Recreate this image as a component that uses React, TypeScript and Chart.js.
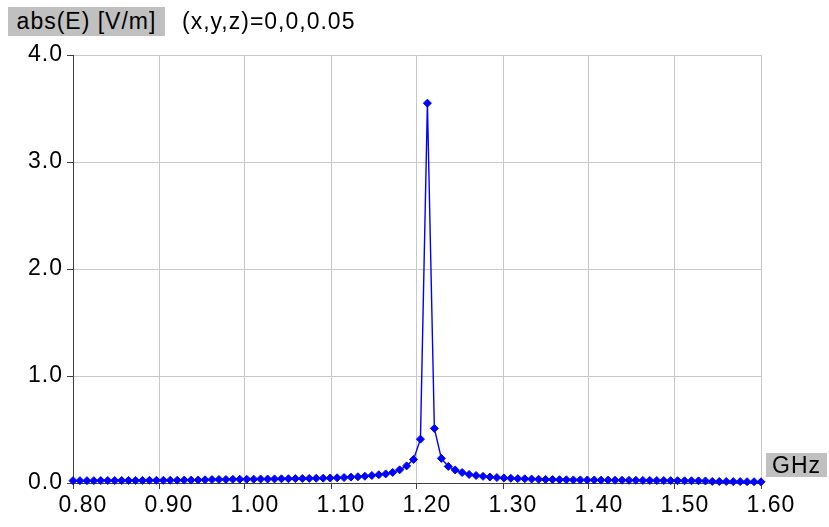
import React, { useEffect, useRef } from "react";
import { Chart, registerables } from "chart.js";

Chart.register(...registerables);

// Frequency samples (GHz)
const FREQ_GHZ: number[] = [
  0.8000, 0.8081, 0.8162, 0.8242, 0.8323, 0.8404, 0.8485, 0.8566, 0.8646, 0.8727,
  0.8808, 0.8889, 0.8970, 0.9051, 0.9131, 0.9212, 0.9293, 0.9374, 0.9455, 0.9535,
  0.9616, 0.9697, 0.9778, 0.9859, 0.9939, 1.0020, 1.0101, 1.0182, 1.0263, 1.0343,
  1.0424, 1.0505, 1.0586, 1.0667, 1.0747, 1.0828, 1.0909, 1.0990, 1.1071, 1.1152,
  1.1232, 1.1313, 1.1394, 1.1475, 1.1556, 1.1636, 1.1717, 1.1798, 1.1879, 1.1960,
  1.2040, 1.2121, 1.2202, 1.2283, 1.2364, 1.2444, 1.2525, 1.2606, 1.2687, 1.2768,
  1.2848, 1.2929, 1.3010, 1.3091, 1.3172, 1.3253, 1.3333, 1.3414, 1.3495, 1.3576,
  1.3657, 1.3737, 1.3818, 1.3899, 1.3980, 1.4061, 1.4141, 1.4222, 1.4303, 1.4384,
  1.4465, 1.4545, 1.4626, 1.4707, 1.4788, 1.4869, 1.4949, 1.5030, 1.5111, 1.5192,
  1.5273, 1.5354, 1.5434, 1.5515, 1.5596, 1.5677, 1.5758, 1.5838, 1.5919, 1.6000,
];

// abs(E) [V/m] at (x,y,z)=0,0,0.05
const ABS_E: number[] = [
  0.022, 0.022, 0.022, 0.022, 0.023, 0.023, 0.023, 0.023, 0.024, 0.024,
  0.024, 0.025, 0.025, 0.025, 0.026, 0.026, 0.027, 0.027, 0.028, 0.030,
  0.032, 0.033, 0.033, 0.034, 0.035, 0.035, 0.036, 0.037, 0.037, 0.038,
  0.039, 0.040, 0.041, 0.042, 0.043, 0.044, 0.045, 0.047, 0.049, 0.051,
  0.055, 0.058, 0.063, 0.070, 0.077, 0.085, 0.099, 0.123, 0.160, 0.220,
  0.410, 3.550, 0.510, 0.230, 0.155, 0.122, 0.098, 0.080, 0.070, 0.062,
  0.056, 0.051, 0.047, 0.044, 0.041, 0.039, 0.037, 0.035, 0.033, 0.032,
  0.031, 0.030, 0.029, 0.029, 0.028, 0.028, 0.027, 0.027, 0.026, 0.026,
  0.025, 0.025, 0.024, 0.024, 0.023, 0.023, 0.022, 0.022, 0.021, 0.021,
  0.020, 0.019, 0.015, 0.014, 0.014, 0.013, 0.013, 0.012, 0.012, 0.011,
];

const X_TICKS: number[] = [0.8, 0.9, 1.0, 1.1, 1.2, 1.3, 1.4, 1.5, 1.6];
const X_TICK_LABELS: string[] = ["0.80", "0.90", "1.00", "1.10", "1.20", "1.30", "1.40", "1.50", "1.60"];
const Y_TICKS: number[] = [0, 1, 2, 3, 4];
const Y_TICK_LABELS: string[] = ["0.0", "1.0", "2.0", "3.0", "4.0"];

const Y_TITLE = "abs(E) [V/m]";
const PROBE_TEXT = "(x,y,z)=0,0,0.05";
const X_TITLE = "GHz";

const W = 829;
const H = 527;
const FONT = "'Liberation Sans', Arial, sans-serif";
const FONT_SIZE = 23;

const letterSpacingPlugin = {
  id: "letterSpacing",
  beforeInit(chart: any) {
    try { chart.ctx.letterSpacing = "1px"; } catch (e) {}
  },
  beforeUpdate(chart: any) {
    try { chart.ctx.letterSpacing = "1px"; } catch (e) {}
  },
  beforeDraw(chart: any) {
    try { chart.ctx.letterSpacing = "1px"; } catch (e) {}
  },
};

export default function App() {
  const canvasRef = useRef<HTMLCanvasElement | null>(null);

  useEffect(() => {
    document.body.style.margin = "0";
    const canvas = canvasRef.current;
    if (!canvas) return;
    const points = FREQ_GHZ.map((f, i) => ({ x: f, y: ABS_E[i] }));
    const chart = new Chart(canvas, {
      type: "line",
      plugins: [letterSpacingPlugin],
      data: {
        datasets: [
          {
            data: points,
            borderColor: "#0000ff",
            borderWidth: 1.4,
            backgroundColor: "#0000ff",
            pointStyle: "rectRot",
            pointRadius: 4,
            pointBorderWidth: 1,
            pointBackgroundColor: "#0000ff",
            pointBorderColor: "#0000ff",
            tension: 0,
            clip: false as any,
          },
        ],
      },
      options: {
        responsive: false,
        animation: false,
        devicePixelRatio: 1,
        layout: { padding: { left: 0, right: W - 761, top: 55, bottom: 0 } },
        plugins: {
          legend: { display: false },
          tooltip: { enabled: false },
          title: { display: false },
        },
        scales: {
          x: {
            type: "linear",
            min: 0.8,
            max: 1.6,
            afterBuildTicks: (scale: any) => {
              scale.ticks = X_TICKS.map((v) => ({ value: v }));
            },
            afterFit: (scale: any) => {
              scale.height = H - 483;
            },
            ticks: {
              autoSkip: false,
              maxRotation: 0,
              color: "#000",
              padding: 3,
              labelOffset: 10,
              font: { family: FONT, size: FONT_SIZE },
              callback: (v: any) => {
                const idx = X_TICKS.findIndex((t) => Math.abs(t - Number(v)) < 1e-6);
                return idx >= 0 ? X_TICK_LABELS[idx] : "";
              },
            },
            grid: { color: "#c8c8c8", lineWidth: 1, tickColor: "#404040", tickLength: 6 },
            border: { display: true, color: "#404040", width: 1 },
          },
          y: {
            type: "linear",
            min: 0,
            max: 4,
            afterBuildTicks: (scale: any) => {
              scale.ticks = Y_TICKS.map((v) => ({ value: v }));
            },
            afterFit: (scale: any) => {
              scale.width = 73;
            },
            ticks: {
              color: "#000",
              padding: 4,
              font: { family: FONT, size: FONT_SIZE },
              callback: (v: any) => {
                const idx = Y_TICKS.findIndex((t) => Math.abs(t - Number(v)) < 1e-6);
                return idx >= 0 ? Y_TICK_LABELS[idx] : "";
              },
            },
            grid: { color: "#c8c8c8", lineWidth: 1, tickColor: "#404040", tickLength: 6 },
            border: { display: true, color: "#404040", width: 1 },
          },
        },
      },
    });
    return () => chart.destroy();
  }, []);

  const textStyle: React.CSSProperties = {
    position: "absolute",
    fontFamily: FONT,
    fontSize: FONT_SIZE,
    letterSpacing: "1px",
    color: "#000",
    whiteSpace: "nowrap",
    lineHeight: "29px",
  };

  return (
    <div style={{ position: "fixed", left: 0, top: 0, width: W, height: H, background: "#fff" }}>
      <canvas ref={canvasRef} width={W} height={H} style={{ width: W, height: H, display: "block" }} />
      <div style={{ ...textStyle, left: 8, top: 7, width: 157, height: 29, background: "#c0c0c0", textAlign: "center" }}>
        {Y_TITLE}
      </div>
      <div style={{ ...textStyle, left: 182, top: 7, height: 29 }}>{PROBE_TEXT}</div>
      <div style={{ ...textStyle, left: 766, top: 453, width: 61, height: 24, lineHeight: "24px", background: "#c0c0c0", textAlign: "center" }}>
        {X_TITLE}
      </div>
    </div>
  );
}
